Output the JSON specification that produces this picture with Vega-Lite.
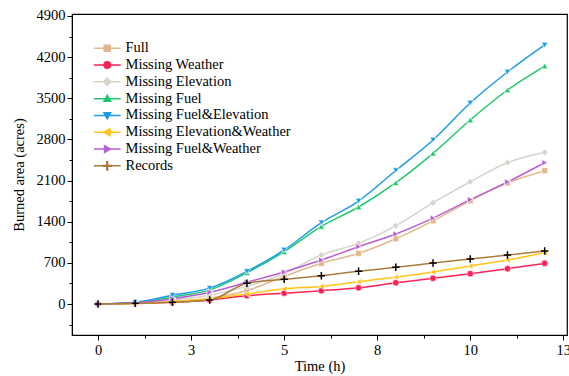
{
  "$schema": "https://vega.github.io/schema/vega-lite/v6.json",
  "width": 495,
  "height": 321,
  "autosize": {"type": "none"},
  "padding": {"left": 72, "top": 14, "right": 2, "bottom": 41},
  "config": {
    "font": "Liberation Serif",
    "view": {"stroke": "black", "strokeWidth": 1.2},
    "axis": {
      "labelFont": "Liberation Serif", "titleFont": "Liberation Serif",
      "labelFontSize": 14.5, "titleFontSize": 14.5, "titleFontWeight": "normal",
      "labelColor": "black", "titleColor": "black",
      "domainColor": "black", "tickColor": "black", "tickWidth": 1,
      "grid": false
    },
    "legend": {"labelFont": "Liberation Serif", "labelFontSize": 14.5, "labelColor": "black", "symbolOpacity": 1, "symbolStrokeWidth": 1.5}
  },
  "data": {"values": [
    {"t":0,"series":"Full","v":0},{"t":1,"series":"Full","v":10},{"t":2,"series":"Full","v":50},{"t":3,"series":"Full","v":100},{"t":4,"series":"Full","v":230},{"t":5,"series":"Full","v":470},{"t":6,"series":"Full","v":692},{"t":7,"series":"Full","v":862},{"t":8,"series":"Full","v":1110},{"t":9,"series":"Full","v":1415},{"t":10,"series":"Full","v":1755},{"t":11,"series":"Full","v":2060},{"t":12,"series":"Full","v":2268},
    {"t":0,"series":"Missing Weather","v":0},{"t":1,"series":"Missing Weather","v":10},{"t":2,"series":"Missing Weather","v":30},{"t":3,"series":"Missing Weather","v":70},{"t":4,"series":"Missing Weather","v":141},{"t":5,"series":"Missing Weather","v":185},{"t":6,"series":"Missing Weather","v":226},{"t":7,"series":"Missing Weather","v":275},{"t":8,"series":"Missing Weather","v":362},{"t":9,"series":"Missing Weather","v":437},{"t":10,"series":"Missing Weather","v":516},{"t":11,"series":"Missing Weather","v":601},{"t":12,"series":"Missing Weather","v":692},
    {"t":0,"series":"Missing Elevation","v":0},{"t":1,"series":"Missing Elevation","v":15},{"t":2,"series":"Missing Elevation","v":70},{"t":3,"series":"Missing Elevation","v":150},{"t":4,"series":"Missing Elevation","v":300},{"t":5,"series":"Missing Elevation","v":520},{"t":6,"series":"Missing Elevation","v":833},{"t":7,"series":"Missing Elevation","v":1032},{"t":8,"series":"Missing Elevation","v":1330},{"t":9,"series":"Missing Elevation","v":1723},{"t":10,"series":"Missing Elevation","v":2080},{"t":11,"series":"Missing Elevation","v":2404},{"t":12,"series":"Missing Elevation","v":2580},
    {"t":0,"series":"Missing Fuel","v":0},{"t":1,"series":"Missing Fuel","v":20},{"t":2,"series":"Missing Fuel","v":120},{"t":3,"series":"Missing Fuel","v":240},{"t":4,"series":"Missing Fuel","v":533},{"t":5,"series":"Missing Fuel","v":890},{"t":6,"series":"Missing Fuel","v":1320},{"t":7,"series":"Missing Fuel","v":1650},{"t":8,"series":"Missing Fuel","v":2063},{"t":9,"series":"Missing Fuel","v":2563},{"t":10,"series":"Missing Fuel","v":3130},{"t":11,"series":"Missing Fuel","v":3640},{"t":12,"series":"Missing Fuel","v":4048},
    {"t":0,"series":"Missing Fuel&Elevation","v":0},{"t":1,"series":"Missing Fuel&Elevation","v":30},{"t":2,"series":"Missing Fuel&Elevation","v":150},{"t":3,"series":"Missing Fuel&Elevation","v":270},{"t":4,"series":"Missing Fuel&Elevation","v":555},{"t":5,"series":"Missing Fuel&Elevation","v":919},{"t":6,"series":"Missing Fuel&Elevation","v":1383},{"t":7,"series":"Missing Fuel&Elevation","v":1752},{"t":8,"series":"Missing Fuel&Elevation","v":2271},{"t":9,"series":"Missing Fuel&Elevation","v":2790},{"t":10,"series":"Missing Fuel&Elevation","v":3419},{"t":11,"series":"Missing Fuel&Elevation","v":3946},{"t":12,"series":"Missing Fuel&Elevation","v":4406},
    {"t":0,"series":"Missing Elevation&Weather","v":0},{"t":1,"series":"Missing Elevation&Weather","v":10},{"t":2,"series":"Missing Elevation&Weather","v":40},{"t":3,"series":"Missing Elevation&Weather","v":90},{"t":4,"series":"Missing Elevation&Weather","v":170},{"t":5,"series":"Missing Elevation&Weather","v":258},{"t":6,"series":"Missing Elevation&Weather","v":300},{"t":7,"series":"Missing Elevation&Weather","v":380},{"t":8,"series":"Missing Elevation&Weather","v":457},{"t":9,"series":"Missing Elevation&Weather","v":544},{"t":10,"series":"Missing Elevation&Weather","v":646},{"t":11,"series":"Missing Elevation&Weather","v":748},{"t":12,"series":"Missing Elevation&Weather","v":873},
    {"t":0,"series":"Missing Fuel&Weather","v":0},{"t":1,"series":"Missing Fuel&Weather","v":20},{"t":2,"series":"Missing Fuel&Weather","v":90},{"t":3,"series":"Missing Fuel&Weather","v":200},{"t":4,"series":"Missing Fuel&Weather","v":370},{"t":5,"series":"Missing Fuel&Weather","v":545},{"t":6,"series":"Missing Fuel&Weather","v":748},{"t":7,"series":"Missing Fuel&Weather","v":975},{"t":8,"series":"Missing Fuel&Weather","v":1190},{"t":9,"series":"Missing Fuel&Weather","v":1460},{"t":10,"series":"Missing Fuel&Weather","v":1775},{"t":11,"series":"Missing Fuel&Weather","v":2075},{"t":12,"series":"Missing Fuel&Weather","v":2404},
    {"t":0,"series":"Records","v":0},{"t":1,"series":"Records","v":11},{"t":2,"series":"Records","v":29},{"t":3,"series":"Records","v":68},{"t":4,"series":"Records","v":352},{"t":5,"series":"Records","v":420},{"t":6,"series":"Records","v":480},{"t":7,"series":"Records","v":556},{"t":8,"series":"Records","v":624},{"t":9,"series":"Records","v":697},{"t":10,"series":"Records","v":765},{"t":11,"series":"Records","v":833},{"t":12,"series":"Records","v":901}
  ]},
  "encoding": {
    "x": {"field": "t", "type": "quantitative", "scale": {"domain": [-0.7, 12.6], "nice": false, "zero": false},
      "axis": {"title": "Time (h)", "values": [0, 1.25, 2.5, 3.75, 5, 6.25, 7.5, 8.75, 10, 11.25, 12.5],
        "labelExpr": "(datum.value * 2) % 5 === 0 ? format(datum.value, '.0f') : ''",
        "tickSize": {"condition": {"test": "(datum.value * 2) % 5 === 0", "value": 5}, "value": 3},
        "labelOverlap": false, "labelBound": false, "labelFlush": false, "labelPadding": 3, "titlePadding": 3}},
    "y": {"field": "v", "type": "quantitative", "scale": {"domain": [-527, 4933], "nice": false, "zero": false},
      "axis": {"title": "Burned area (acres)", "values": [-350, 0, 350, 700, 1050, 1400, 1750, 2100, 2450, 2800, 3150, 3500, 3850, 4200, 4550, 4900],
        "labelExpr": "datum.value % 700 === 0 ? format(datum.value, 'd') : ''",
        "tickSize": {"condition": {"test": "datum.value % 700 === 0", "value": 5}, "value": 3},
        "labelOverlap": false, "labelPadding": 2, "titlePadding": 10}}
  },
  "layer": [
    {
      "mark": {"type": "line", "interpolate": "monotone", "strokeWidth": 1.5},
      "encoding": {
        "color": {"field": "series", "type": "nominal", "legend": null,
          "scale": {"domain": ["Full","Missing Elevation","Missing Elevation&Weather","Missing Fuel","Missing Fuel&Elevation","Missing Fuel&Weather","Missing Weather","Records"],
            "range": ["#E2B98C","#D8D2CC","#FFC414","#1FC86B","#1C9CE6","#B85FD0","#FF2157","#A97C3C"]}}
      }
    },
    {
      "transform": [{"filter": "datum.series === 'Full'"}],
      "mark": {"type": "point", "shape": "square", "filled": true, "size": 36, "opacity": 1, "stroke": "white", "strokeWidth": 0.6},
      "encoding": {"color": {"field": "series", "type": "nominal", "legend": null}}
    },
    {
      "transform": [{"filter": "datum.series === 'Missing Weather'"}],
      "mark": {"type": "point", "shape": "circle", "filled": true, "size": 42, "opacity": 1, "stroke": "white", "strokeWidth": 0.6},
      "encoding": {"color": {"field": "series", "type": "nominal", "legend": null}}
    },
    {
      "transform": [{"filter": "datum.series === 'Missing Elevation'"}],
      "mark": {"type": "point", "shape": "diamond", "filled": true, "size": 45, "opacity": 1, "stroke": "white", "strokeWidth": 0.6},
      "encoding": {"color": {"field": "series", "type": "nominal", "legend": null}}
    },
    {
      "transform": [{"filter": "datum.series === 'Missing Fuel'"}],
      "mark": {"type": "point", "shape": "triangle-up", "filled": true, "size": 40, "opacity": 1, "stroke": "white", "strokeWidth": 0.6},
      "encoding": {"color": {"field": "series", "type": "nominal", "legend": null}}
    },
    {
      "transform": [{"filter": "datum.series === 'Missing Fuel&Elevation'"}],
      "mark": {"type": "point", "shape": "triangle-down", "filled": true, "size": 40, "opacity": 1, "stroke": "white", "strokeWidth": 0.6},
      "encoding": {"color": {"field": "series", "type": "nominal", "legend": null}}
    },
    {
      "transform": [{"filter": "datum.series === 'Missing Elevation&Weather'"}],
      "mark": {"type": "point", "shape": "triangle-left", "filled": true, "size": 40, "opacity": 1, "stroke": "white", "strokeWidth": 0.6},
      "encoding": {"color": {"field": "series", "type": "nominal", "legend": null}}
    },
    {
      "transform": [{"filter": "datum.series === 'Missing Fuel&Weather'"}],
      "mark": {"type": "point", "shape": "triangle-right", "filled": true, "size": 40, "opacity": 1, "stroke": "white", "strokeWidth": 0.6},
      "encoding": {"color": {"field": "series", "type": "nominal", "legend": null}}
    },
    {
      "transform": [{"filter": "datum.series === 'Records'"}],
      "mark": {"type": "point", "shape": "M-1,0L1,0M0,-1L0,1", "filled": false, "stroke": "black", "strokeWidth": 1.5, "size": 55, "opacity": 1},
      "encoding": {}
    },
    {
      "transform": [{"filter": "datum.t < 0"}],
      "mark": {"type": "point", "filled": true, "opacity": 1},
      "encoding": {
        "fill": {"field": "series", "type": "nominal",
          "scale": {"domain": ["Full","Missing Weather","Missing Elevation","Missing Fuel","Missing Fuel&Elevation","Missing Elevation&Weather","Missing Fuel&Weather","Records"],
            "range": ["#E2B98C","#FF2157","#D8D2CC","#1FC86B","#1C9CE6","#FFC414","#B85FD0","black"]},
          "legend": {"title": null, "orient": "none", "legendX": 28, "legendY": 27, "rowPadding": 1.8, "labelOffset": 11, "symbolSize": 45, "labelLimit": 400, "symbolOpacity": 1, "symbolStrokeWidth": 1.5}},
        "stroke": {"field": "series", "type": "nominal",
          "scale": {"domain": ["Full","Missing Weather","Missing Elevation","Missing Fuel","Missing Fuel&Elevation","Missing Elevation&Weather","Missing Fuel&Weather","Records"],
            "range": ["#E2B98C","#FF2157","#D8D2CC","#1FC86B","#1C9CE6","#FFC414","#B85FD0","#A97C3C"]},
          "legend": {"title": null, "orient": "none", "legendX": 28, "legendY": 27, "rowPadding": 1.8, "labelOffset": 11, "symbolSize": 45, "labelLimit": 400, "symbolOpacity": 1, "symbolStrokeWidth": 1.5}},
        "shape": {"field": "series", "type": "nominal",
          "scale": {"domain": ["Full","Missing Weather","Missing Elevation","Missing Fuel","Missing Fuel&Elevation","Missing Elevation&Weather","Missing Fuel&Weather","Records"],
            "range": ["M-4,0H4M-0.9,-0.9H0.9V0.9H-0.9Z", "M-4,0H4M0.95,0A0.95,0.95,0,1,1,-0.95,0A0.95,0.95,0,1,1,0.95,0Z", "M-4,0H4M0,-1.1L1.1,0L0,1.1L-1.1,0Z", "M-4,0H4M0,-1L1,0.8H-1Z", "M-4,0H4M0,1L1,-0.8H-1Z", "M-4,0H4M-1,0L0.8,-1V1Z", "M-4,0H4M1,0L-0.8,-1V1Z", "M-4,0H4M-0.12,-1.2H0.12V1.2H-0.12ZM-1.2,-0.12H1.2V0.12H-1.2Z"]},
          "legend": {"title": null, "orient": "none", "legendX": 28, "legendY": 27, "rowPadding": 1.8, "labelOffset": 11, "symbolSize": 45, "labelLimit": 400, "symbolOpacity": 1, "symbolStrokeWidth": 1.5}}
      }
    }
  ]
}
